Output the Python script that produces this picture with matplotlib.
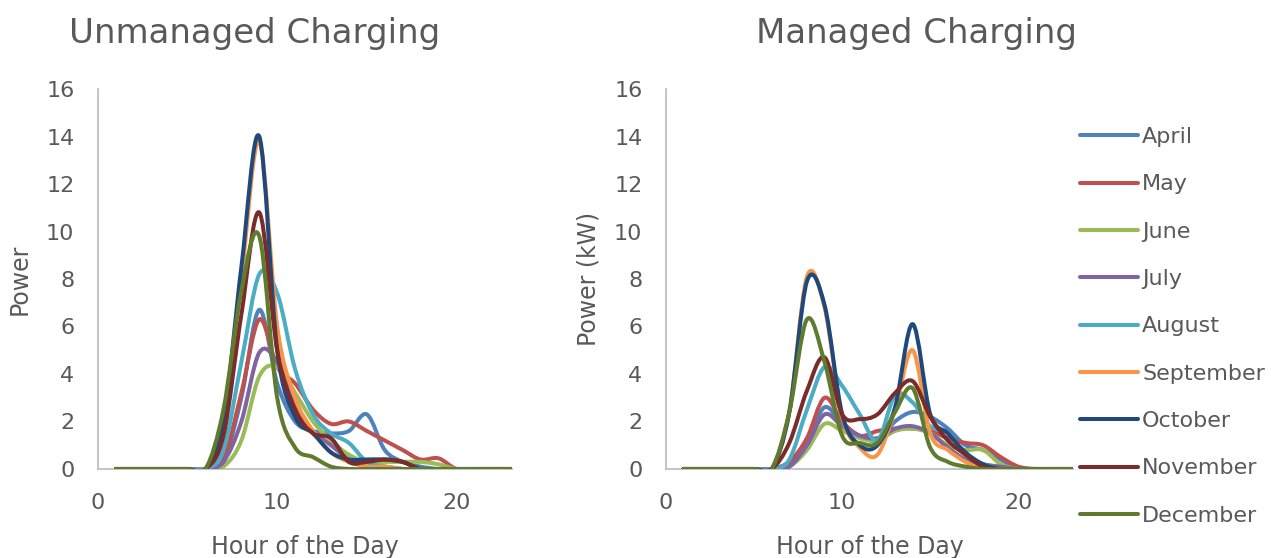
import numpy as np
import matplotlib
matplotlib.use("Agg")
import matplotlib.pyplot as plt
from matplotlib.path import Path
from matplotlib.patches import PathPatch
from matplotlib.lines import Line2D

# Hours of the day (x values)
hours = list(range(1, 24))

months = ["April", "May", "June", "July", "August",
          "September", "October", "November", "December"]
colors = ["#4F81BD", "#C0504D", "#9BBB59", "#8064A2", "#4BACC6",
          "#F79646", "#1F497D", "#7B2C2A", "#5E7B2E"]

# Unmanaged charging (power per hour, hours 1..23)
un_april = [0, 0, 0, 0, 0, 0, 0.3, 3.0, 6.7, 3.6, 2.0, 1.6, 1.5, 1.6, 2.3, 0.8, 0.3, 0.1, 0, 0, 0, 0, 0]
un_may = [0, 0, 0, 0, 0, 0, 0.4, 3.2, 6.3, 4.3, 3.6, 2.5, 1.9, 2.0, 1.6, 1.2, 0.8, 0.4, 0.45, 0, 0, 0, 0]
un_june = [0, 0, 0, 0, 0, 0, 0.1, 1.2, 3.9, 4.3, 3.2, 2.0, 1.2, 0.6, 0.3, 0.3, 0.3, 0.3, 0.2, 0, 0, 0, 0]
un_july = [0, 0, 0, 0, 0, 0, 0.3, 2.0, 4.9, 4.5, 2.6, 1.6, 1.0, 0.4, 0.1, 0.1, 0, 0, 0, 0, 0, 0, 0]
un_august = [0, 0, 0, 0, 0, 0, 0.8, 4.5, 8.2, 7.4, 4.2, 2.3, 1.5, 1.1, 0.3, 0.1, 0, 0, 0, 0, 0, 0, 0]
un_september = [0, 0, 0, 0, 0, 0, 2.0, 8.0, 13.8, 6.0, 3.0, 1.6, 0.7, 0.3, 0.1, 0.1, 0, 0, 0, 0, 0, 0, 0]
un_october = [0, 0, 0, 0, 0, 0, 2.0, 8.5, 14.0, 5.0, 2.2, 1.5, 0.7, 0.4, 0.4, 0.4, 0.3, 0, 0, 0, 0, 0, 0]
un_november = [0, 0, 0, 0, 0, 0, 1.4, 6.5, 10.8, 5.0, 2.5, 1.5, 1.3, 0.3, 0.3, 0.4, 0.3, 0, 0, 0, 0, 0, 0]
un_december = [0, 0, 0, 0, 0, 0, 2.5, 7.5, 9.8, 3.0, 0.9, 0.5, 0.1, 0, 0, 0, 0, 0, 0, 0, 0, 0, 0]

# Managed charging (kW per hour, hours 1..23)
mg_april = [0, 0, 0, 0, 0, 0, 0.3, 1.2, 2.6, 1.9, 1.4, 1.2, 2.0, 2.4, 2.2, 1.7, 1.0, 0.8, 0.4, 0, 0, 0, 0]
mg_may = [0, 0, 0, 0, 0, 0, 0.3, 1.3, 3.0, 2.0, 1.4, 1.6, 1.7, 1.7, 1.6, 1.3, 1.1, 1.0, 0.5, 0.1, 0, 0, 0]
mg_june = [0, 0, 0, 0, 0, 0, 0.1, 0.8, 1.9, 1.6, 1.3, 1.2, 1.6, 1.7, 1.5, 1.0, 0.8, 0.8, 0.2, 0, 0, 0, 0]
mg_july = [0, 0, 0, 0, 0, 0, 0.1, 1.0, 2.3, 1.8, 1.4, 1.3, 1.7, 1.8, 1.5, 0.9, 0.4, 0.2, 0.1, 0, 0, 0, 0]
mg_august = [0, 0, 0, 0, 0, 0, 0.4, 2.5, 4.3, 3.5, 2.3, 1.2, 3.1, 2.8, 1.8, 1.5, 0.6, 0.2, 0, 0, 0, 0, 0]
mg_september = [0, 0, 0, 0, 0, 0, 2.4, 8.1, 6.8, 2.2, 0.9, 0.6, 2.5, 5.0, 1.5, 0.8, 0.3, 0, 0, 0, 0, 0, 0]
mg_october = [0, 0, 0, 0, 0, 0, 2.4, 7.9, 6.9, 2.3, 1.0, 1.0, 2.6, 6.1, 2.3, 1.5, 0.7, 0.2, 0, 0, 0, 0, 0]
mg_november = [0, 0, 0, 0, 0, 0, 1.1, 3.3, 4.7, 2.3, 2.1, 2.3, 3.2, 3.7, 2.2, 1.2, 0.6, 0.1, 0, 0, 0, 0, 0]
mg_december = [0, 0, 0, 0, 0, 0, 2.4, 6.3, 4.5, 1.4, 1.1, 1.1, 2.4, 3.4, 0.9, 0.3, 0.1, 0, 0, 0, 0, 0, 0]

unmanaged = [un_april, un_may, un_june, un_july, un_august,
             un_september, un_october, un_november, un_december]
managed = [mg_april, mg_may, mg_june, mg_july, mg_august,
           mg_september, mg_october, mg_november, mg_december]

TEXT = "#595959"
AXIS = "#BFBFBF"
plt.rcParams['font.family'] = ['DejaVu Sans']


def smooth_path(xs, ys):
    """Excel-like smoothed line: Catmull-Rom segments as cubic Bezier curves"""
    pts = np.column_stack([xs, ys]).astype(float)
    ext = np.vstack([pts[0], pts, pts[-1]])
    verts = [pts[0]]
    codes = [Path.MOVETO]
    for i in range(1, len(ext) - 2):
        p0, p1, p2, p3 = ext[i - 1], ext[i], ext[i + 1], ext[i + 2]
        verts += [p1 + (p2 - p0) / 6, p2 - (p3 - p1) / 6, p2]
        codes += [Path.CURVE4] * 3
    return Path(verts, codes)


def draw_panel(ax, series, ylabel):
    for vals, c in zip(series, colors):
        patch = PathPatch(smooth_path(hours, vals), facecolor="none", edgecolor=c,
                          lw=2.9, capstyle="round", joinstyle="round", zorder=3)
        ax.add_patch(patch)
    ax.set_xlim(0, 23.1)
    ax.set_ylim(0, 16)
    ax.set_xticks([0, 10, 20])
    ax.set_yticks(range(0, 17, 2))
    for s in ["top", "right"]:
        ax.spines[s].set_visible(False)
    for s in ["left", "bottom"]:
        ax.spines[s].set_color(AXIS)
        ax.spines[s].set_linewidth(1.3)
    ax.tick_params(length=0, labelsize=16, labelcolor=TEXT)
    ax.tick_params(axis="y", pad=17)
    ax.tick_params(axis="x", pad=17)
    ax.set_xlabel("Hour of the Day", fontsize=17, color=TEXT, labelpad=16)
    ax.set_ylabel(ylabel, fontsize=17, color=TEXT, labelpad=10)


fig = plt.figure(figsize=(12.71, 5.58), dpi=100)
ax1 = fig.add_axes([0.0771, 0.1595, 0.3257, 0.681])
ax2 = fig.add_axes([0.524, 0.1595, 0.3202, 0.681])

draw_panel(ax1, unmanaged, "Power")
draw_panel(ax2, managed, "Power (kW)")

fig.text(255 / 1271, 0.94, "Unmanaged Charging", fontsize=24.5, color=TEXT, ha="center", va="center")
fig.text(917 / 1271, 0.94, "Managed Charging", fontsize=24.5, color=TEXT, ha="center", va="center")

handles = [Line2D([], [], color=c, lw=2.9, solid_capstyle="round") for c in colors]
fig.legend(handles, months, loc="upper left", bbox_to_anchor=(0.8497, 0.7725),
           frameon=False, fontsize=16, labelcolor=TEXT, handlelength=2.6,
           handletextpad=0.2, labelspacing=1.23, borderpad=0, borderaxespad=0)

fig.savefig("out.png", dpi=100)
